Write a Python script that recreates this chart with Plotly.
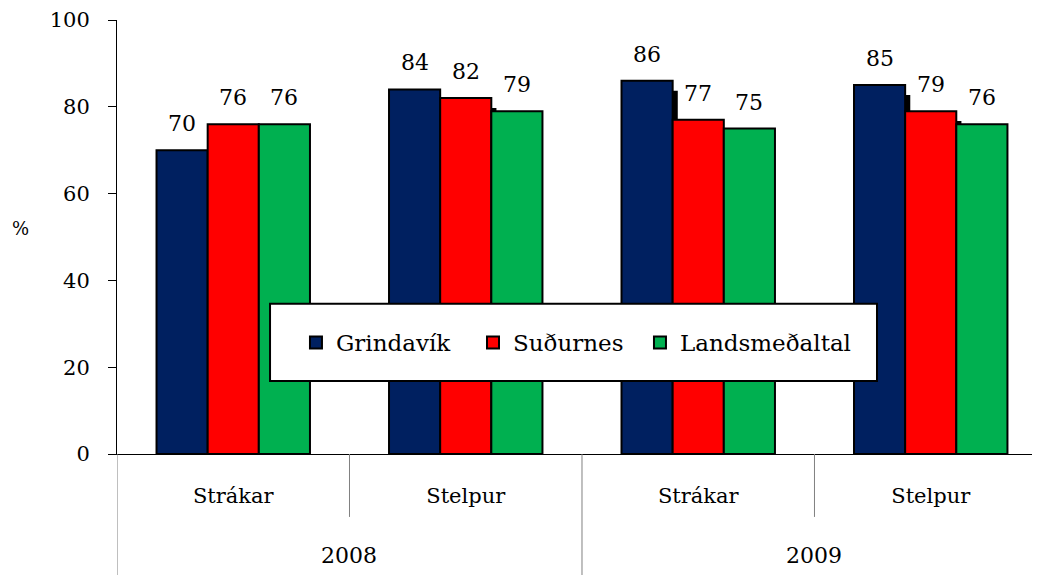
import plotly.graph_objects as go

# data
years = ['2008', '2008', '2009', '2009']
groups = ['Strákar', 'Stelpur', 'Strákar', 'Stelpur']
series_names = ['Grindavík', 'Suðurnes', 'Landsmeðaltal']
grindavik = [70, 84, 86, 85]
sudurnes = [76, 82, 77, 79]
landsmedaltal = [76, 79, 75, 76]
y_ticks = [0, 20, 40, 60, 80, 100]

series = [grindavik, sudurnes, landsmedaltal]
colors = ['#002060', '#FF0000', '#00B050']
font = 'DejaVu Serif'   # only serif face available here

idx = list(range(len(groups)))
bar_w = 0.22
offsets = [-0.33, -0.11, 0.11]
shadow_dx = 0.022   # ~5px right
shadow_dy = 1.15    # ~5px down

# one legend per series so the entries can be spaced like the original
legend_ids = ['legend', 'legend2', 'legend3']
legend_x = [0.1939, 0.3857, 0.5666]

fig = go.Figure()

# drop shadows (last series' shadow is hidden in the original)
for vals, off in zip(series[:2], offsets[:2]):
    fig.add_trace(go.Bar(x=idx, y=[v - shadow_dy for v in vals], base=-shadow_dy,
                         width=bar_w, offset=off + shadow_dx,
                         marker=dict(color='black', line=dict(width=0)),
                         showlegend=False, hoverinfo='skip'))

for name, vals, col, off, lg in zip(series_names, series, colors, offsets, legend_ids):
    fig.add_trace(go.Bar(x=idx, y=vals, name=name, width=bar_w, offset=off, legend=lg,
                         marker=dict(color=col, line=dict(color='black', width=2))))

# value labels
for vals, off in zip(series, offsets):
    for i, v in zip(idx, vals):
        fig.add_annotation(x=i + off + bar_w / 2, y=v, text=str(v), showarrow=False,
                           yanchor='bottom', yshift=12,
                           font=dict(family=font, size=22, color='black'))

# year labels under their groups
for yr in dict.fromkeys(years):
    pos = [i for i in idx if years[i] == yr]
    fig.add_annotation(x=sum(pos) / len(pos), y=-0.235, yref='paper', text=yr,
                       showarrow=False, yanchor='middle',
                       font=dict(family=font, size=22, color='black'))

# category dividers: short between groups, long between years
for i in idx:
    long_line = i == 0 or years[i] != years[i - 1]
    fig.add_shape(type='line', xref='x', yref='paper', x0=i - 0.5, x1=i - 0.5,
                  y0=0, y1=-0.279 if long_line else -0.145,
                  line=dict(color='#808080', width=1))

# legend box
fig.add_shape(type='rect', xref='paper', yref='paper', x0=0.1658, x1=0.8234,
              y0=0.168, y1=0.346, fillcolor='white', line=dict(color='black', width=2),
              layer='above')

fig.add_annotation(text='%', xref='paper', yref='paper', x=-0.105, y=0.52, showarrow=False,
                   xanchor='center', font=dict(family=font, size=18, color='black'))

fig.update_xaxes(range=[-0.5, 3.47], tickvals=idx, ticktext=groups, showgrid=False,
                 zeroline=False, showline=True, linecolor='black', linewidth=1,
                 ticks='', ticklabelstandoff=23,
                 tickfont=dict(family=font, size=21, color='black'))
fig.update_yaxes(range=[0, 100], tickvals=y_ticks, showgrid=False, zeroline=False,
                 showline=True, linecolor='black', linewidth=1,
                 ticks='outside', ticklen=8, tickcolor='black', ticklabelstandoff=14,
                 ticklabeloverflow='allow',
                 tickfont=dict(family=font, size=21, color='black'))

legends = {lg: dict(orientation='h', x=lx, y=0.257, xanchor='left', yanchor='middle',
                    bgcolor='rgba(0,0,0,0)', borderwidth=0,
                    font=dict(family=font, size=23, color='black'))
           for lg, lx in zip(legend_ids, legend_x)}

fig.update_layout(barmode='overlay', width=1032, height=567,
                  margin=dict(l=109, r=0, t=12, b=121),
                  plot_bgcolor='white', paper_bgcolor='white', **legends)

fig.write_html('out.html')
